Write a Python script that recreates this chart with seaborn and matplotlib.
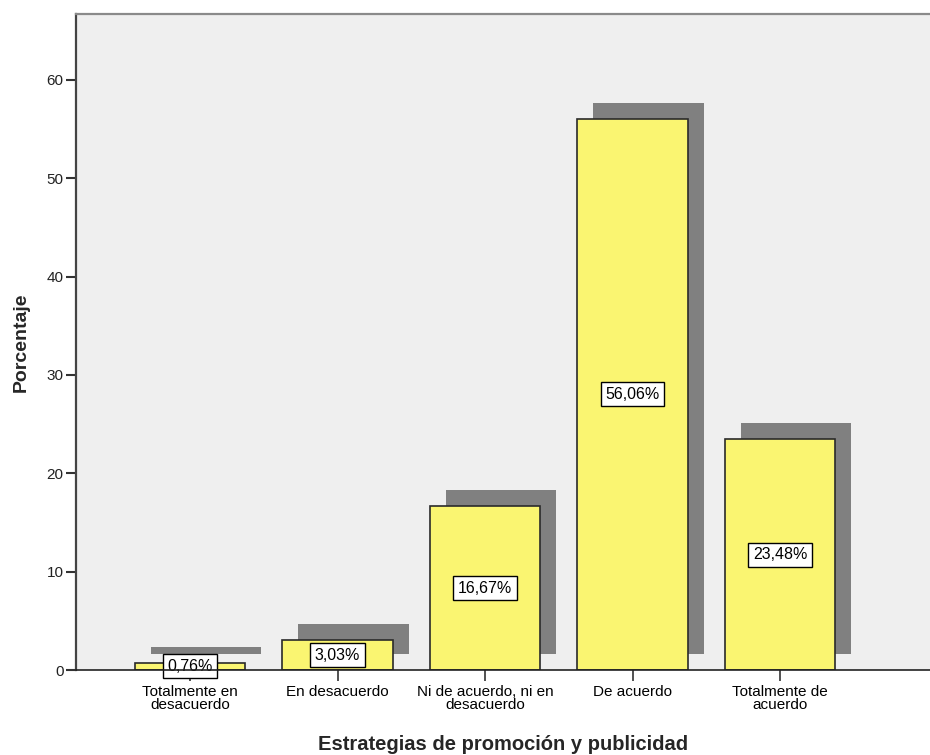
import matplotlib
matplotlib.use("Agg")
import matplotlib.pyplot as plt
import matplotlib.transforms as mtransforms
import seaborn as sns
import pandas as pd

# Response categories and their percentages
categories = [
    "Totalmente en\ndesacuerdo",
    "En desacuerdo",
    "Ni de acuerdo, ni en\ndesacuerdo",
    "De acuerdo",
    "Totalmente de\nacuerdo",
]
percentages = [0.76, 3.03, 16.67, 56.06, 23.48]
value_labels = ["0,76%", "3,03%", "16,67%", "56,06%", "23,48%"]
y_ticks = [0, 10, 20, 30, 40, 50, 60]

df = pd.DataFrame({"categoria": categories, "porcentaje": percentages})

sns.set_theme(style="white")
plt.rcParams["font.family"] = ["Liberation Sans", "DejaVu Sans"]

fig = plt.figure(figsize=(9.3, 7.55), dpi=100)
ax = fig.add_axes([76 / 930, 85 / 755, 1 - 76 / 930, (670 - 14) / 755])
ax.set_facecolor("#EFEFEF")

# Drop shadow: same bars, shifted up and to the right
sns.barplot(data=df, x="categoria", y="porcentaje", order=categories,
            color="#808080", width=0.75, saturation=1, linewidth=0,
            ax=ax, zorder=1)
shift = mtransforms.ScaledTranslation(16 / 100, 16 / 100, fig.dpi_scale_trans)
for p in ax.patches:
    p.set_transform(ax.transData + shift)

# Main yellow bars
sns.barplot(data=df, x="categoria", y="porcentaje", order=categories,
            color="#FAF571", width=0.75, saturation=1,
            edgecolor="#2a2a2a", linewidth=1.2, ax=ax, zorder=2)

# Value labels in boxes at mid-height of each bar
for i, (v, lab) in enumerate(zip(percentages, value_labels)):
    ax.text(i, v / 2, lab, ha="center", va="center", fontsize=11.5,
            color="black", zorder=4,
            bbox=dict(boxstyle="square,pad=0.28", facecolor="white",
                      edgecolor="black", linewidth=1.0))

ax.set_xlim(-0.773, 5.017)
ax.set_ylim(0, 66.7)
ax.set_yticks(y_ticks)
ax.set_yticklabels([str(t) for t in y_ticks], fontsize=11, color="#222222")
ax.set_xticks(range(len(categories)))
ax.set_xticklabels(categories, fontsize=11, color="black", linespacing=0.85)

ax.tick_params(axis="y", direction="out", length=7, width=1.5,
               color="#333333", pad=2, left=True)
ax.tick_params(axis="x", direction="out", length=8, width=1.2,
               color="#333333", pad=3, bottom=True)

ax.set_ylabel("Porcentaje", fontsize=14, fontweight="bold", labelpad=12)
ax.set_xlabel("Estrategias de promoción y publicidad", fontsize=14.5,
              fontweight="bold", labelpad=17)

for side in ["left", "top", "bottom", "right"]:
    ax.spines[side].set_visible(True)
ax.spines["left"].set_color("#444444")
ax.spines["left"].set_linewidth(1.6)
ax.spines["top"].set_color("#8a8a8a")
ax.spines["top"].set_linewidth(1.6)
ax.spines["bottom"].set_color("#222222")
ax.spines["bottom"].set_linewidth(1.2)
ax.spines["right"].set_visible(False)
for s in ax.spines.values():
    s.set_zorder(5)

fig.savefig("out.png", dpi=100, facecolor="white")
